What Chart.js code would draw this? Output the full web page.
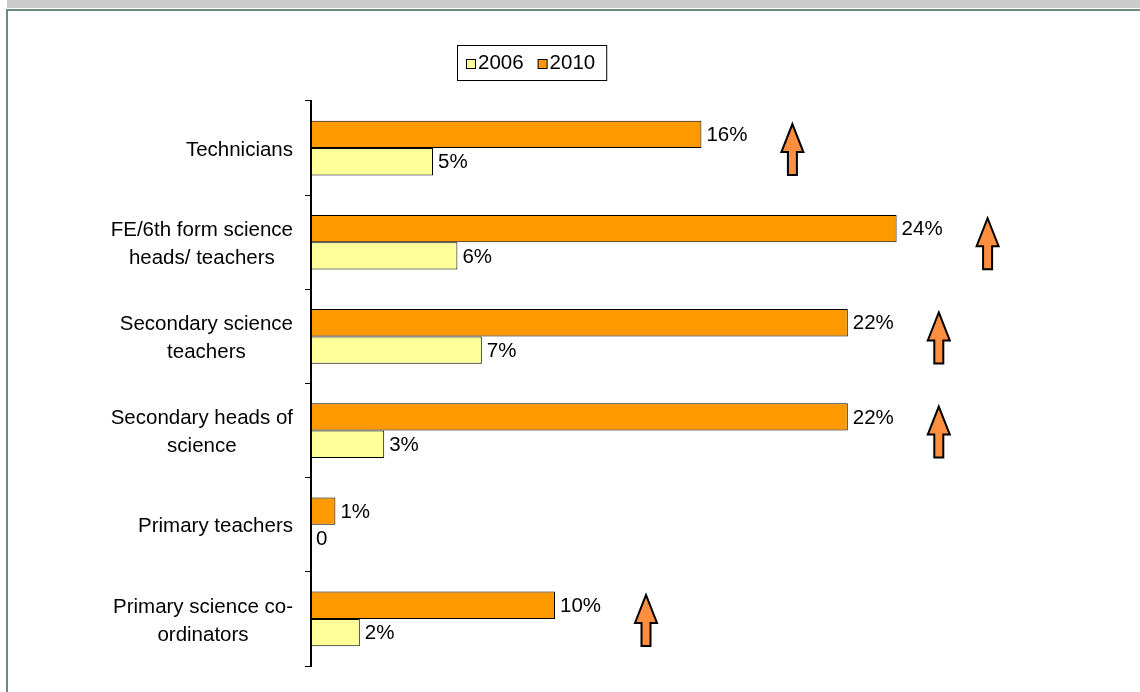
<!DOCTYPE html>
<html>
<head>
<meta charset="utf-8">
<script src="https://cdn.jsdelivr.net/npm/chart.js@4.4.1/dist/chart.umd.min.js"></script>
<style>
  html, body { margin: 0; padding: 0; background: #fff; width: 1140px; height: 692px; overflow: hidden; }
  #band { position: absolute; left: 7px; top: 0; width: 1133px; height: 8px; background: #cccccc; }
  #frameTop { position: absolute; left: 6px; top: 9px; right: 0; height: 2px; background: #6e8b77; }
  #frameLeft { position: absolute; left: 6px; top: 9px; width: 2px; bottom: 0; background: #6e8b77; }
  canvas { position: absolute; left: 0; top: 0; }
</style>
</head>
<body>
<div id="band"></div>
<div id="frameTop"></div>
<div id="frameLeft"></div>
<canvas id="chart" width="1140" height="692"></canvas>
<script>
// Respondent groups (multi-line labels)
const categories = [
  ["Technicians"],
  ["FE/6th form science", "heads/ teachers"],
  ["Secondary science", "teachers"],
  ["Secondary heads of", "science"],
  ["Primary teachers"],
  ["Primary science co-", "ordinators"]
];
// Percentages per survey year
const values2006 = [5, 6, 7, 3, 0, 2];
const values2010 = [16, 24, 22, 22, 1, 10];
const seriesNames = ["2006", "2010"];
// Groups flagged with an upward arrow
const risingGroups = [true, true, true, true, false, true];
const xMax = 30;

const FONT = "20.5px 'Liberation Sans', Arial, sans-serif";
const ORANGE = "#ff9900";
const YELLOW = "#ffff99";

function pctLabel(v) { return v === 0 ? "0" : v + "%"; }

// Category labels: block right-aligned to the axis, each line centred in the block
const labelPlugin = {
  id: "groupLabels",
  afterDraw(chart) {
    const ctx = chart.ctx;
    const ys = chart.scales.y;
    const right = 293, lineH = 28;
    ctx.save();
    ctx.font = FONT;
    ctx.fillStyle = "#000";
    ctx.textAlign = "center";
    ctx.textBaseline = "middle";
    categories.forEach((lines, i) => {
      const y = ys.getPixelForValue(i) + 2;
      const w = Math.max(...lines.map(l => ctx.measureText(l).width));
      const cx = right - w / 2;
      const y0 = y - (lines.length - 1) * lineH / 2;
      lines.forEach((l, k) => ctx.fillText(l, cx, y0 + k * lineH));
    });
    ctx.restore();
  }
};

// Value labels at the end of each bar
const valuePlugin = {
  id: "valueLabels",
  afterDatasetsDraw(chart) {
    const ctx = chart.ctx;
    ctx.save();
    ctx.font = FONT;
    ctx.fillStyle = "#000";
    ctx.textAlign = "left";
    ctx.textBaseline = "middle";
    chart.data.datasets.forEach((ds, di) => {
      chart.getDatasetMeta(di).data.forEach((bar, i) => {
        ctx.fillText(pctLabel(ds.data[i]), bar.x + 5, bar.y + 1);
      });
    });
    ctx.restore();
  }
};

// Upward arrows beside the 2010 bars of rising groups
const arrowPlugin = {
  id: "riseArrows",
  afterDatasetsDraw(chart) {
    const ctx = chart.ctx;
    const xs = chart.scales.x, ys = chart.scales.y;
    ctx.save();
    ctx.fillStyle = "#ff8f40";
    ctx.strokeStyle = "#000";
    ctx.lineWidth = 2;
    ctx.lineJoin = "miter";
    risingGroups.forEach((flag, i) => {
      if (!flag) return;
      const cx = xs.getPixelForValue(values2010[i]) + 91;
      const cy = ys.getPixelForValue(i) + 1;
      const top = cy - 25, bottom = cy + 26, headB = top + 28;
      const hw = 11, sw = 4.5;
      ctx.beginPath();
      ctx.moveTo(cx, top);
      ctx.lineTo(cx + hw, headB);
      ctx.lineTo(cx + sw, headB);
      ctx.lineTo(cx + sw, bottom);
      ctx.lineTo(cx - sw, bottom);
      ctx.lineTo(cx - sw, headB);
      ctx.lineTo(cx - hw, headB);
      ctx.closePath();
      ctx.fill();
      ctx.stroke();
    });
    ctx.restore();
  }
};

// Framed legend, 2006 first
const legendPlugin = {
  id: "framedLegend",
  afterDraw(chart) {
    const ctx = chart.ctx;
    const left = 457, top = 45, h = 35, box = 9;
    ctx.save();
    ctx.font = FONT;
    ctx.textBaseline = "middle";
    ctx.textAlign = "left";
    const items = chart.data.datasets.slice().reverse();
    let x = left + 9;
    const cy = top + h / 2 + 1;
    items.forEach((ds, k) => {
      ctx.fillStyle = ds.backgroundColor;
      ctx.fillRect(x + 0.5, cy - box / 2 + 0.5, box, box);
      ctx.strokeStyle = "#000";
      ctx.lineWidth = 1;
      ctx.strokeRect(x + 0.5, cy - box / 2 + 0.5, box, box);
      x += box + 3;
      ctx.fillStyle = "#000";
      ctx.fillText(ds.label, x, cy);
      x += ctx.measureText(ds.label).width + (k < items.length - 1 ? 14 : 11);
    });
    ctx.strokeStyle = "#000";
    ctx.lineWidth = 1;
    ctx.strokeRect(left + 0.5, top + 0.5, x - left, h);
    ctx.restore();
  }
};

new Chart(document.getElementById("chart"), {
  type: "bar",
  data: {
    labels: categories,
    datasets: [
      { label: seriesNames[1], data: values2010, backgroundColor: ORANGE, borderColor: "#000", borderWidth: 1, borderSkipped: false },
      { label: seriesNames[0], data: values2006, backgroundColor: YELLOW, borderColor: "#000", borderWidth: 1, borderSkipped: false }
    ]
  },
  options: {
    indexAxis: "y",
    responsive: false,
    animation: false,
    devicePixelRatio: 1,
    layout: { padding: { top: 101, bottom: 26, left: 0, right: 97 } },
    datasets: { bar: { categoryPercentage: 0.58, barPercentage: 1 } },
    plugins: { legend: { display: false }, tooltip: { enabled: false } },
    scales: {
      x: { display: false, min: 0, max: xMax },
      y: {
        type: "category",
        offset: true,
        ticks: { display: false },
        grid: { offset: true, drawOnChartArea: false, drawTicks: true, tickLength: 6, color: "#000", lineWidth: 1 },
        border: { display: true, color: "#000", width: 2 },
        afterFit(scale) { scale.width = 311; }
      }
    }
  },
  plugins: [labelPlugin, valuePlugin, arrowPlugin, legendPlugin]
});
</script>
</body>
</html>
